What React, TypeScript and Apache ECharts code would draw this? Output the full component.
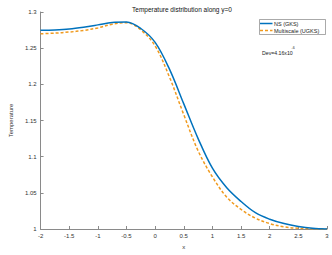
import React, { useEffect, useRef } from "react";
import * as echarts from "echarts";

const xValues = [-2, -1.75, -1.5, -1.25, -1, -0.75, -0.5, -0.25, 0, 0.25, 0.5, 0.75, 1, 1.25, 1.5, 1.75, 2, 2.25, 2.5, 2.75, 3];
const nsGks = [1.2746, 1.2752, 1.2765, 1.279, 1.2822, 1.2856, 1.2862, 1.2772, 1.258, 1.221, 1.173, 1.125, 1.084, 1.057, 1.038, 1.0225, 1.0135, 1.0075, 1.0035, 1.001, 1.0];
const multiscaleUgks = [1.2699, 1.2708, 1.2723, 1.2745, 1.278, 1.2832, 1.2853, 1.2752, 1.253, 1.21, 1.158, 1.108, 1.072, 1.044, 1.027, 1.015, 1.0075, 1.003, 1.001, 1.0003, 1.0];
const seriesNames = ["NS (GKS)", "Multiscale (UGKS)"];
const seriesColors = ["#0072BD", "#F09A1E"];
const titleText = "Temperature distribution along y=0";
const devText = "Dev=4.16x10";
const devExp = "-6";

export default function App() {
  const ref = useRef<HTMLDivElement>(null);
  useEffect(() => {
    if (!ref.current) return;
    const chart = echarts.init(ref.current, null, { renderer: "svg" });
    const font = "Liberation Sans, Arial, sans-serif";
    const axisColor = "#8a8a8a";
    const labelColor = "#333";
    chart.setOption({
      animation: false,
      backgroundColor: "#fff",
      title: {
        text: titleText,
        left: 177,
        textAlign: "center",
        top: 1,
        textStyle: { fontSize: 6.5, fontWeight: "normal", color: "#111", fontFamily: font },
      },
      grid: { left: 27, right: 5, top: 12, bottom: 21, containLabel: false },
      xAxis: {
        type: "value",
        min: -2,
        max: 3,
        interval: 0.5,
        name: "x",
        nameLocation: "middle",
        nameGap: 15,
        nameTextStyle: { fontSize: 6, color: labelColor, fontFamily: font },
        axisLine: { onZero: false, lineStyle: { color: axisColor, width: 1 } },
        axisTick: { inside: true, length: 3, lineStyle: { color: axisColor } },
        axisLabel: { fontSize: 6, color: labelColor, fontFamily: font, margin: 4 },
        splitLine: { show: false },
      },
      yAxis: {
        type: "value",
        min: 1,
        max: 1.3,
        interval: 0.05,
        name: "Temperature",
        nameLocation: "middle",
        nameGap: 19,
        nameTextStyle: { fontSize: 6, color: labelColor, fontFamily: font },
        axisLine: { show: true, onZero: false, lineStyle: { color: axisColor, width: 1 } },
        axisTick: { show: true, inside: true, length: 3, lineStyle: { color: axisColor } },
        axisLabel: { fontSize: 6, color: labelColor, fontFamily: font, margin: 4 },
        splitLine: { show: false },
      },
      series: [
        {
          name: seriesNames[0],
          type: "line",
          smooth: 0.35,
          symbol: "none",
          data: xValues.map((x, i) => [x, nsGks[i]]),
          lineStyle: { color: seriesColors[0], width: 1.5 },
          itemStyle: { color: seriesColors[0] },
          z: 3,
        },
        {
          name: seriesNames[1],
          type: "line",
          smooth: 0.35,
          symbol: "none",
          data: xValues.map((x, i) => [x, multiscaleUgks[i]]),
          lineStyle: { color: seriesColors[1], width: 1.5, type: [3, 2] },
          itemStyle: { color: seriesColors[1] },
          z: 2,
        },
      ],
      graphic: [
        {
          type: "rect",
          shape: { x: 259.5, y: 19.5, width: 66, height: 15 },
          style: { fill: "#fff", stroke: "#555", lineWidth: 0.5 },
          z: 10,
        },
        {
          type: "line",
          shape: { x1: 260, y1: 23.5, x2: 272.5, y2: 23.5 },
          style: { stroke: seriesColors[0], lineWidth: 1.5 },
          z: 11,
        },
        {
          type: "line",
          shape: { x1: 260, y1: 30.5, x2: 272.5, y2: 30.5 },
          style: { stroke: seriesColors[1], lineWidth: 1.5, lineDash: [3, 2] },
          z: 11,
        },
        {
          type: "text",
          x: 274,
          y: 23.5,
          style: { text: seriesNames[0], fontSize: 5.5, fill: "#222", fontFamily: font, verticalAlign: "middle" },
          z: 11,
        },
        {
          type: "text",
          x: 274,
          y: 30.5,
          style: { text: seriesNames[1], fontSize: 5.5, fill: "#222", fontFamily: font, verticalAlign: "middle" },
          z: 11,
        },
        {
          type: "text",
          x: 262,
          y: 52.5,
          style: { text: devText, fontSize: 5.2, fill: "#222", fontFamily: font, verticalAlign: "middle" },
        },
        {
          type: "text",
          x: 291.5,
          y: 48,
          style: { text: devExp, fontSize: 3.6, fill: "#222", fontFamily: font, verticalAlign: "middle" },
        },
      ],
    });
    return () => chart.dispose();
  }, []);
  return <div ref={ref} style={{ position: "fixed", left: 0, top: 0, width: 332, height: 255 }} />;
}
